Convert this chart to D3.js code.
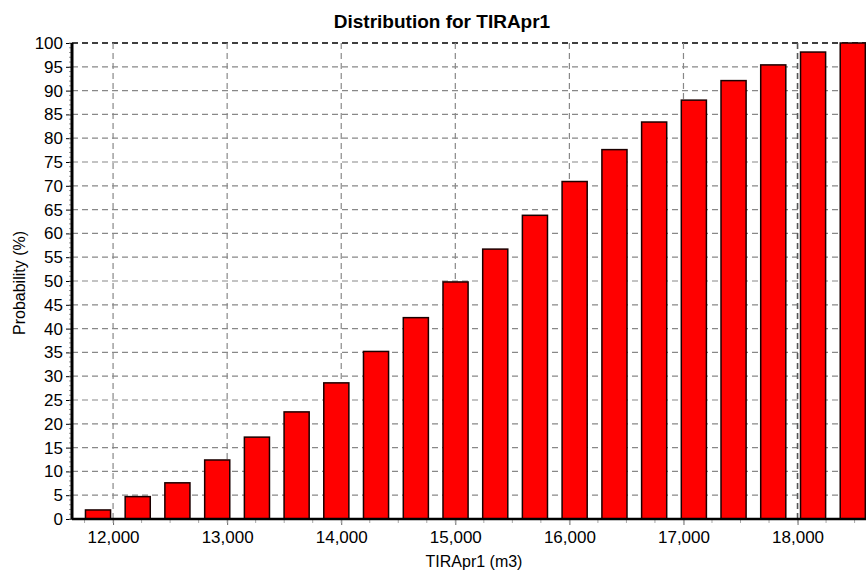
<!DOCTYPE html>
<html>
<head>
<meta charset="utf-8">
<script src="https://cdn.jsdelivr.net/npm/d3@7"></script>
<style>
  body { margin: 0; background: #fff; }
  text { font-family: "Liberation Sans", Arial, sans-serif; fill: #000; }
</style>
</head>
<body>
<div id="container"></div>
<script>
// bin centres (m3) and cumulative probability (%)
const binCenters = [11868, 12216, 12564, 12913, 13261, 13609, 13957, 14305, 14654, 15002,
  15350, 15698, 16046, 16395, 16743, 17091, 17439, 17787, 18136, 18484];
const probs = [1.9, 4.7, 7.6, 12.4, 17.2, 22.5, 28.6, 35.2, 42.3, 49.8,
  56.7, 63.8, 70.9, 77.6, 83.4, 88.0, 92.1, 95.4, 98.1, 100];
const binWidth = 220;
const xTicks = [12000, 13000, 14000, 15000, 16000, 17000, 18000];
const yTicks = [0, 5, 10, 15, 20, 25, 30, 35, 40, 45, 50, 55, 60, 65, 70, 75, 80, 85, 90, 95, 100];
const title = "Distribution for TIRApr1";
const xTitle = "TIRApr1 (m3)";
const yTitle = "Probability (%)";

const width = 866, height = 572;
const margin = { top: 43, right: 0, bottom: 53, left: 72 };
const innerW = width - margin.left - margin.right;
const innerH = height - margin.top - margin.bottom;

const svg = d3.select("#container").append("svg")
  .attr("width", width).attr("height", height);

const x = d3.scaleLinear().domain([11640, 18600]).range([0, innerW]);
const y = d3.scaleLinear().domain([0, 100]).range([innerH, 0]);

const g = svg.append("g").attr("transform", `translate(${margin.left},${margin.top})`);

//grid lines
g.selectAll(".hgrid").data(yTicks.filter(d => d > 0)).enter().append("line")
  .attr("x1", 0).attr("x2", innerW)
  .attr("y1", d => y(d)).attr("y2", d => y(d))
  .attr("stroke", d => d === 100 ? "#000" : "#888")
  .attr("stroke-width", d => d === 100 ? 1.5 : 1.2)
  .attr("stroke-dasharray", "6,4");

g.selectAll(".vgrid").data(xTicks).enter().append("line")
  .attr("x1", d => x(d)).attr("x2", d => x(d))
  .attr("y1", 0).attr("y2", innerH)
  .attr("stroke", d => d === 18000 ? "#555" : "#888")
  .attr("stroke-width", d => d === 18000 ? 1.6 : 1.2)
  .attr("stroke-dasharray", "6,4");

//bars
g.selectAll(".bar").data(binCenters).enter().append("rect")
  .attr("x", d => x(d - binWidth / 2))
  .attr("width", d => x(d + binWidth / 2) - x(d - binWidth / 2))
  .attr("y", (d, i) => y(probs[i]))
  .attr("height", (d, i) => innerH - y(probs[i]))
  .attr("fill", "#ff0000")
  .attr("stroke", "#1a0000")
  .attr("stroke-width", 1.5);

//y axis
const yAxis = d3.axisLeft(y).tickValues(yTicks).tickSize(6).tickPadding(3);
const ya = g.append("g").call(yAxis);
ya.select(".domain").remove();
ya.selectAll("text").style("font-size", "17px");
g.append("g").selectAll("line").data(d3.range(0, 101)).enter().append("line")
  .attr("x1", -3).attr("x2", 0)
  .attr("y1", d => y(d)).attr("y2", d => y(d))
  .attr("stroke", "#999");

//x axis
const xAxis = d3.axisBottom(x).tickValues(xTicks).tickSize(6).tickPadding(6)
  .tickFormat(d3.format(","));
const xa = g.append("g").attr("transform", `translate(0,${innerH})`).call(xAxis);
xa.select(".domain").remove();
xa.selectAll("line").attr("stroke", "#666");
xa.selectAll("text").style("font-size", "17px");
g.append("g").selectAll("line").data(d3.range(11750, 18600, 250)).enter().append("line")
  .attr("x1", d => x(d)).attr("x2", d => x(d))
  .attr("y1", innerH).attr("y2", innerH + 4)
  .attr("stroke", "#aaa");

g.append("line").attr("x1", 0).attr("x2", innerW).attr("y1", innerH).attr("y2", innerH)
  .attr("stroke", "#000").attr("stroke-width", 2.5);
g.append("line").attr("x1", 0).attr("x2", 0).attr("y1", 0).attr("y2", innerH)
  .attr("stroke", "#000").attr("stroke-width", 3);

//titles
svg.append("text").attr("x", 442).attr("y", 28)
  .attr("text-anchor", "middle")
  .style("font-family", "'Liberation Sans Narrow', 'Liberation Sans', sans-serif")
  .style("font-weight", "bold").style("font-size", "19px")
  .text(title);

svg.append("text").attr("x", 474).attr("y", 567)
  .attr("text-anchor", "middle").style("font-size", "16px")
  .text(xTitle);

svg.append("text").attr("transform", `translate(25,${margin.top + innerH / 2 + 2}) rotate(-90)`)
  .attr("text-anchor", "middle").style("font-size", "16px")
  .text(yTitle);
</script>
</body>
</html>
